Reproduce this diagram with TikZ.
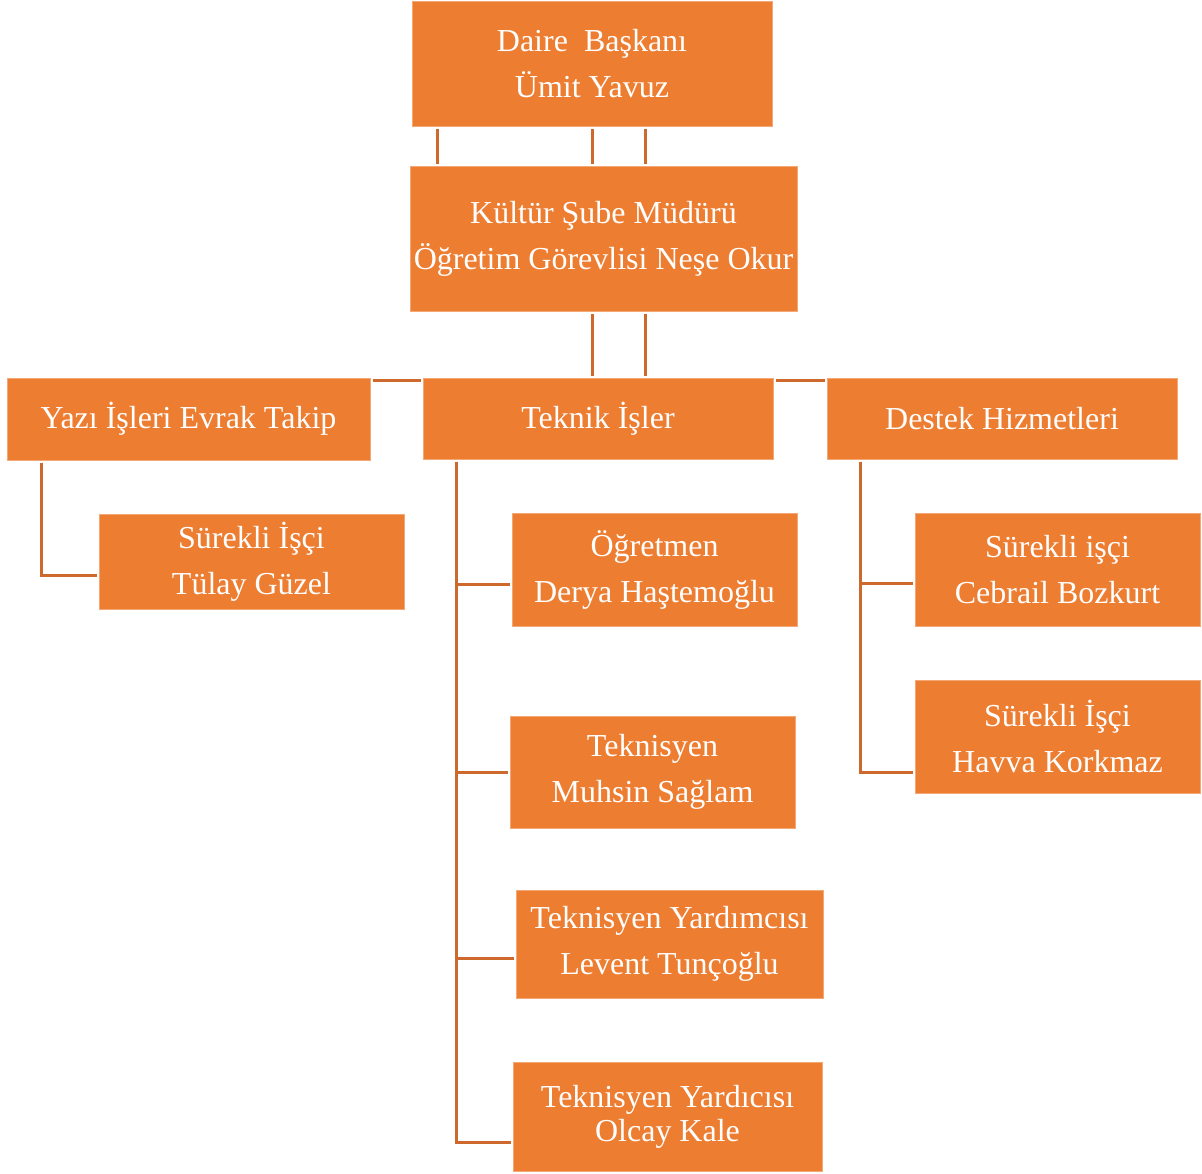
\documentclass[tikz,border=0pt]{standalone}
\usepackage{fontspec}
\setmainfont{Liberation Serif}
\usepackage{tikz}

\definecolor{boxorange}{RGB}{237,125,49}
\definecolor{boxedge}{RGB}{244,168,118}
\definecolor{linkorange}{RGB}{205,105,45}

\begin{document}
\begin{tikzpicture}[x=0.5pt,y=-0.5pt,
  unit/.style={rectangle,fill=boxorange,draw=boxedge,line width=0.5pt,inner sep=0pt,
    text=white,align=center,font=\fontsize{16}{23}\selectfont},
  link/.style={draw=linkorange,line width=1.5pt,shorten <=1pt,shorten >=1pt}]
\useasboundingbox (0,0) rectangle (1202,1173);
\node [unit,minimum width=180pt,minimum height=62.5pt] (daire) at (592,63.5) {Daire\ \ Başkanı\\Ümit Yavuz};
\node [unit,minimum width=193.5pt,minimum height=72.5pt] (kultur) at (603.5,238.5) {Kültür Şube Müdürü\\Öğretim Görevlisi Neşe Okur};
\node [unit,minimum width=181.5pt,minimum height=41pt] (yazi) at (188.5,419) {Yazı İşleri Evrak Takip};
\node [unit,minimum width=175pt,minimum height=40.5pt] (teknik) at (598,418.5) {Teknik İşler};
\node [unit,minimum width=175pt,minimum height=40.5pt] (destek) at (1002,418.5) {Destek Hizmetleri};
\node [unit,minimum width=152.5pt,minimum height=47.5pt] (tulay) at (251.5,561.5) {Sürekli İşçi\\Tülay Güzel};
\node [unit,minimum width=142.5pt,minimum height=56.5pt] (derya) at (654.5,569.5) {Öğretmen\\Derya Haştemoğlu};
\node [unit,minimum width=142.5pt,minimum height=56pt] (muhsin) at (652.5,772) {Teknisyen\\Muhsin Sağlam};
\node [unit,minimum width=153.5pt,minimum height=54pt] (levent) at (669.5,944) {Teknisyen Yardımcısı\\Levent Tunçoğlu};
\node [unit,minimum width=154.5pt,minimum height=54.5pt,font=\fontsize{16}{17}\selectfont] (olcay) at (667.5,1116.5) {Teknisyen Yardıcısı\\Olcay Kale};
\node [unit,minimum width=142.5pt,minimum height=56.5pt] (cebrail) at (1057.5,569.5) {Sürekli işçi\\Cebrail Bozkurt};
\node [unit,minimum width=142.5pt,minimum height=56.5pt] (havva) at (1057.5,736.5) {Sürekli İşçi\\Havva Korkmaz};

% top levels
\draw[link] ([xshift=-77.15pt]daire.south) -- ([xshift=-82.9pt]kultur.north);
\draw[link] (daire.south) -- ([xshift=-5.75pt]kultur.north);
\draw[link] ([xshift=26.5pt]daire.south) -- ([xshift=20.75pt]kultur.north);
\draw[link] ([xshift=-5.75pt]kultur.south) -- ([xshift=-3pt]teknik.north);
\draw[link] ([xshift=20.75pt]kultur.south) -- ([xshift=23.5pt]teknik.north);
\draw[link] ([yshift=-1.25pt]yazi.north east) -- ([yshift=-1.25pt]teknik.north west);
\draw[link] ([yshift=-1.25pt]teknik.north east) -- ([yshift=-1.25pt]destek.north west);

% branches
\draw[link] ([xshift=17.5pt]yazi.south west) |- ([yshift=-6.75pt]tulay.west);
\draw[link] ([xshift=17pt]teknik.south west) |- ([yshift=-7.25pt]derya.west);
\draw[link] ([xshift=17pt]teknik.south west) |- (muhsin.west);
\draw[link] ([xshift=17pt]teknik.south west) |- ([yshift=-7pt]levent.west);
\draw[link] ([xshift=17pt]teknik.south west) |- ([yshift=-12.75pt]olcay.west);
\draw[link] ([xshift=17pt]destek.south west) |- ([yshift=-6.75pt]cebrail.west);
\draw[link] ([xshift=17pt]destek.south west) |- ([yshift=-17.75pt]havva.west);
\end{tikzpicture}
\end{document}
